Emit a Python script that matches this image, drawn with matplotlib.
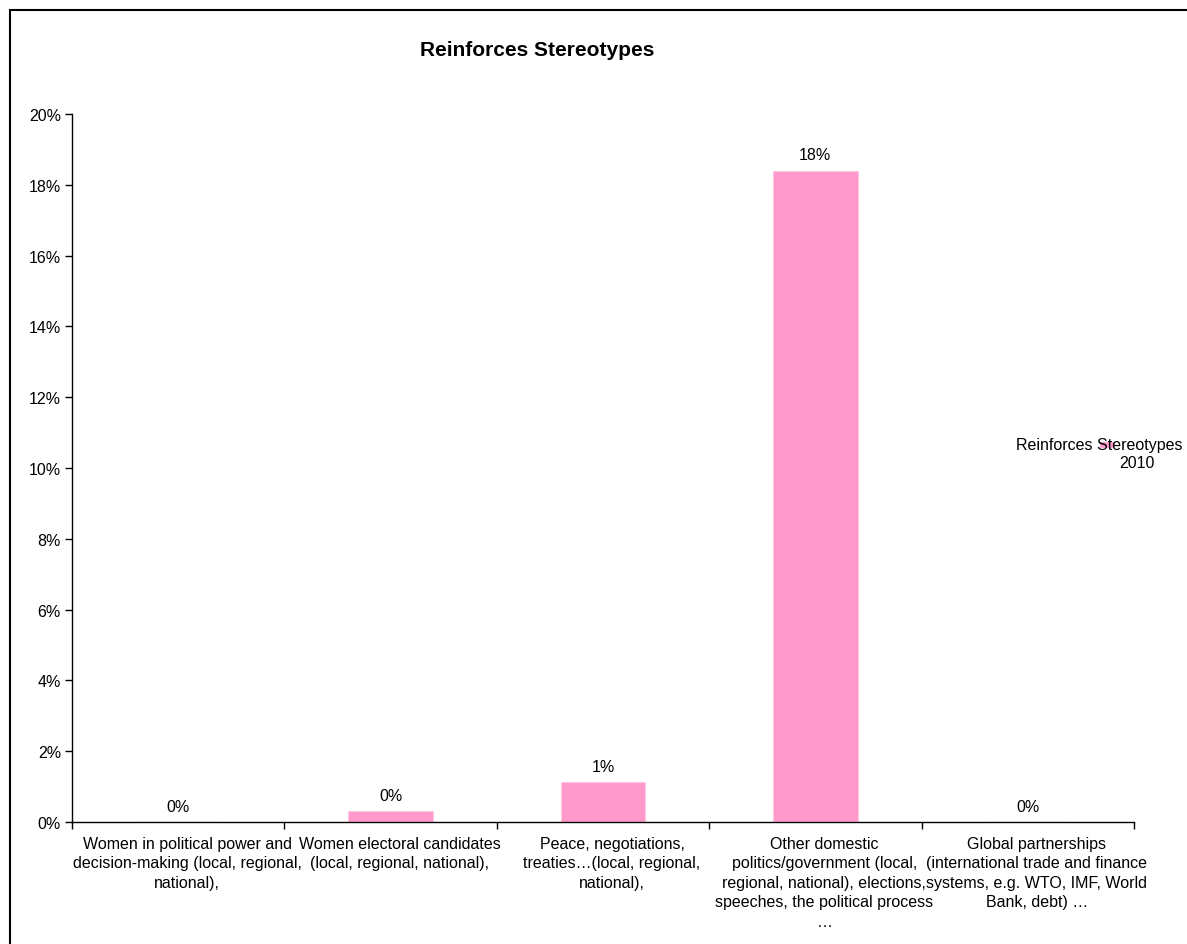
import matplotlib
matplotlib.use("Agg")
import matplotlib.pyplot as plt
import matplotlib.transforms as mtransforms
from matplotlib.lines import Line2D
from matplotlib.patches import Rectangle
from matplotlib.ticker import FuncFormatter, MultipleLocator

plt.rcParams['font.family'] = ['Liberation Sans', 'DejaVu Sans']

categories = [
    "Women in political power and\ndecision-making (local, regional,\nnational),",
    "Women electoral candidates\n(local, regional, national),",
    "Peace, negotiations,\ntreaties…(local, regional,\nnational),",
    "Other domestic\npolitics/government (local,\nregional, national), elections,\nspeeches, the political process\n…",
    "Global partnerships\n(international trade and finance\nsystems, e.g. WTO, IMF, World\nBank, debt) …",
]
values = [0.0, 0.31, 1.12, 18.4, 0.0]
series_name = "Reinforces Stereotypes\n2010"
title = "Reinforces Stereotypes"

bar_color = "#FF99CC"

fig = plt.figure(figsize=(11.87, 9.45), dpi=100)
ax = fig.add_axes([0.0607, 0.1291, 0.8946, 0.7492])

x = list(range(len(categories)))
bars = ax.bar(x, values, width=0.4, color=bar_color, edgecolor="#FFC8E2", linewidth=0.8)

for xi, v in zip(x, values):
    ax.annotate(f"{v:.0f}%", (xi, v), xytext=(0, 6), textcoords="offset points",
                ha="center", va="bottom", fontsize=11.5, color="black")

ax.set_xlim(-0.5, len(categories) - 0.5)
ax.set_ylim(0, 20)
ax.yaxis.set_major_locator(MultipleLocator(2))
ax.yaxis.set_major_formatter(FuncFormatter(lambda v, p: f"{v:.0f}%"))
ax.tick_params(axis="y", labelsize=11.5, length=5, width=1, direction="out", pad=3)

# category boundary ticks, labels centred under each bar
ax.set_xticks([i + 0.5 for i in range(-1, len(categories))])
ax.set_xticklabels([])
ax.tick_params(axis="x", length=5, width=1, direction="out")
label_shift = mtransforms.offset_copy(ax.transData, fig=fig, x=9, y=-3, units="dots")
for xi, lab in zip(x, categories):
    ax.text(xi, -0.3, lab, ha="center", va="top", fontsize=11.5,
            linespacing=1.38, transform=label_shift)

for s in ("top", "right"):
    ax.spines[s].set_visible(False)
for s in ("left", "bottom"):
    ax.spines[s].set_linewidth(1)

fig.text(537 / 1187, 1 - 50 / 945, title, ha="center", va="center",
         fontsize=15, fontweight="bold")

# legend entry
fig.text(1183 / 1187, 1 - 446 / 945, series_name.split("\n")[0],
         ha="right", va="center", fontsize=11.5)
fig.text(1155 / 1187, 1 - 464 / 945, series_name.split("\n")[1],
         ha="right", va="center", fontsize=11.5)
fig.add_artist(Line2D([1103 / 1187, 1112 / 1187], [1 - 446 / 945, 1 - 446 / 945],
                      transform=fig.transFigure, color=bar_color, linewidth=4))

# chart frame
fig.add_artist(Rectangle((10 / 1187, -0.05), 1.2, 1 - 11 / 945 + 0.05,
                         transform=fig.transFigure, fill=False,
                         edgecolor="black", linewidth=1.5))

fig.savefig("out.png", dpi=100)
